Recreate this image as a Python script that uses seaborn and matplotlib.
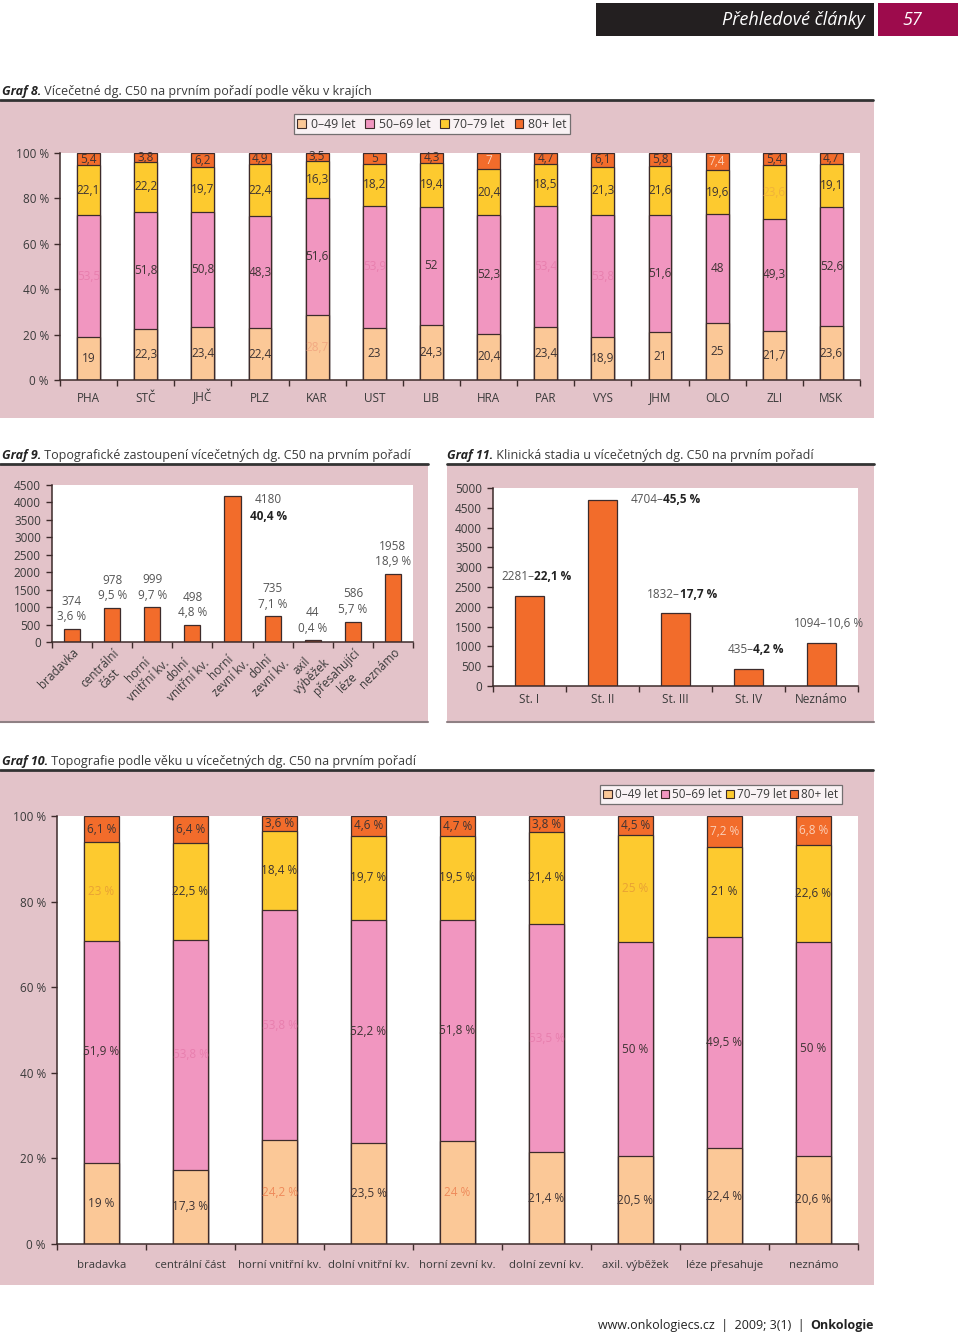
import numpy as np
import pandas as pd
import matplotlib
matplotlib.use('Agg')
import matplotlib.pyplot as plt
import seaborn as sns
from matplotlib.patches import Rectangle, Patch
from matplotlib.lines import Line2D
from matplotlib.offsetbox import TextArea, HPacker, AnnotationBbox

# ---------------- data ----------------
age_groups = ['0–49 let', '50–69 let', '70–79 let', '80+ let']

regions = ['PHA', 'STČ', 'JHČ', 'PLZ', 'KAR', 'UST', 'LIB', 'HRA', 'PAR', 'VYS', 'JHM', 'OLO', 'ZLI', 'MSK']
g8_0_49 = [19, 22.3, 23.4, 22.4, 28.7, 23, 24.3, 20.4, 23.4, 18.9, 21, 25, 21.7, 23.6]
g8_50_69 = [53.5, 51.8, 50.8, 48.3, 51.6, 53.9, 52, 52.3, 53.4, 53.8, 51.6, 48, 49.3, 52.6]
g8_70_79 = [22.1, 22.2, 19.7, 22.4, 16.3, 18.2, 19.4, 20.4, 18.5, 21.3, 21.6, 19.6, 23.6, 19.1]
g8_80 = [5.4, 3.8, 6.2, 4.9, 3.5, 5, 4.3, 7, 4.7, 6.1, 5.8, 7.4, 5.4, 4.7]

sites9 = ['bradavka', 'centrální\nčást', 'horní\nvnitřní kv.', 'dolní\nvnitřní kv.', 'horní\nzevní kv.',
          'dolní\nzevní kv.', 'axil\nvýběžek', 'přesahující\nléze', 'neznámo']
counts9 = [374, 978, 999, 498, 4180, 735, 44, 586, 1958]
pct9 = [3.6, 9.5, 9.7, 4.8, 40.4, 7.1, 0.4, 5.7, 18.9]

stages11 = ['St. I', 'St. II', 'St. III', 'St. IV', 'Neznámo']
counts11 = [2281, 4704, 1832, 435, 1094]
pct11 = [22.1, 45.5, 17.7, 4.2, 10.6]

sites10 = ['bradavka', 'centrální část', 'horní vnitřní kv.', 'dolní vnitřní kv.', 'horní zevní kv.',
           'dolní zevní kv.', 'axil. výběžek', 'léze přesahuje', 'neznámo']
g10_0_49 = [19, 17.3, 24.2, 23.5, 24, 21.4, 20.5, 22.4, 20.6]
g10_50_69 = [51.9, 53.8, 53.8, 52.2, 51.8, 53.5, 50, 49.5, 50]
g10_70_79 = [23, 22.5, 18.4, 19.7, 19.5, 21.4, 25, 21, 22.6]
g10_80 = [6.1, 6.4, 3.6, 4.6, 4.7, 3.8, 4.5, 7.2, 6.8]

# ---------------- style ----------------
W, H = 960, 1334
COLORS = ['#fbc897', '#f196c0', '#fdca2f', '#f26c2b']
EDGE = '#3d2b2b'
PANEL = '#e3c3c9'
TXT = '#3a3a3a'
FONT = ['Open Sans', 'DejaVu Sans']

sns.set_theme(style='white')
plt.rcParams['font.family'] = FONT
plt.rcParams['text.color'] = TXT
plt.rcParams['axes.labelcolor'] = TXT
plt.rcParams['xtick.color'] = TXT
plt.rcParams['ytick.color'] = TXT

fig = plt.figure(figsize=(W / 100, H / 100), dpi=100)
fig.patch.set_facecolor('white')


def fbox(x0, y0, x1, y1):
    return [x0 / W, 1 - y1 / H, (x1 - x0) / W, (y1 - y0) / H]


def rect(x0, y0, x1, y1, color):
    fig.add_artist(Rectangle((x0 / W, 1 - y1 / H), (x1 - x0) / W, (y1 - y0) / H,
                             transform=fig.transFigure, facecolor=color, edgecolor='none', zorder=0))


def hline(x0, x1, y, color, lw):
    fig.add_artist(Line2D([x0 / W, x1 / W], [1 - y / H, 1 - y / H], transform=fig.transFigure,
                          color=color, lw=lw, zorder=1))


def rich_fig(x, y, parts, size, align=(0, 0.5)):
    areas = [TextArea(t, textprops=dict(fontsize=size, fontweight=w, fontstyle=s, color=c, family=FONT))
             for t, w, s, c in parts]
    pack = HPacker(children=areas, align='baseline', pad=0, sep=0)
    ab = AnnotationBbox(pack, (x, H - y), xycoords='figure pixels', box_alignment=align,
                        frameon=False, pad=0, annotation_clip=False)
    fig.add_artist(ab)


def fmt(v):
    s = ('%g' % v)
    return s.replace('.', ',')


def style_axes(ax, n, labels, ymax, yticks, ylabels, xsize=8.5, xpad=7, rot=0):
    ax.set_facecolor('white')
    for s in ['top', 'right']:
        ax.spines[s].set_visible(False)
    for s in ['left', 'bottom']:
        ax.spines[s].set_color(EDGE)
        ax.spines[s].set_linewidth(1.1)
    ax.set_xlim(-0.5, n - 0.5)
    ax.set_ylim(0, ymax)
    ax.set_xlabel('')
    ax.set_ylabel('')
    ax.set_yticks(yticks, ylabels)
    ax.tick_params(axis='y', which='major', length=4, width=1, color=EDGE, direction='out',
                   labelsize=8.5, pad=4, left=True)
    if rot:
        ax.set_xticks(range(n), labels, rotation=rot, ha='right', rotation_mode='anchor',
                      multialignment='center')
    else:
        ax.set_xticks(range(n), labels)
        for t in ax.get_xticklabels():
            t.set_verticalalignment('baseline')
    ax.set_xticks(np.arange(n + 1) - 0.5, minor=True)
    ax.tick_params(axis='x', which='major', length=0, labelsize=xsize, pad=xpad, bottom=True)
    ax.tick_params(axis='x', which='minor', length=4, width=1, color=EDGE, direction='out', bottom=True)
    ax.grid(False)


def stacked(ax, cats, series, suffix, overrides, lsize):
    vals = np.array(series, dtype=float)
    norm = vals / vals.sum(axis=0) * 100
    cum = np.cumsum(norm, axis=0)
    for k in range(len(series) - 1, -1, -1):
        df = pd.DataFrame({'cat': cats, 'val': cum[k]})
        sns.barplot(data=df, x='cat', y='val', color=COLORS[k], edgecolor=EDGE, linewidth=0.9,
                    width=0.4, saturation=1, errorbar=None, ax=ax)
    for k in range(len(series)):
        for i in range(len(cats)):
            yc = cum[k][i] - norm[k][i] / 2
            col = overrides.get((i, k), '#3d3333')
            ax.text(i, yc, fmt(vals[k][i]) + suffix, ha='center', va='center', fontsize=lsize,
                    color=col, zorder=5)


def legend(x, y, size, colsp, hpad):
    handles = [Patch(facecolor=c, edgecolor=EDGE, linewidth=0.8, label=l) for c, l in zip(COLORS, age_groups)]
    lg = fig.legend(handles=handles, loc='center', bbox_to_anchor=(x / W, 1 - y / H), ncol=4,
                    fontsize=size, frameon=True, fancybox=False, edgecolor='#555555',
                    handlelength=0.7, handleheight=0.7, handletextpad=hpad, columnspacing=colsp,
                    borderpad=0.25, borderaxespad=0)
    lg.get_frame().set_linewidth(0.9)
    for t in lg.get_texts():
        t.set_color(TXT)


# ---------------- header ----------------
rect(596, 3, 874, 36, '#231f20')
rect(878, 3, 958, 36, '#9d0b4c')
fig.text(865 / W, 1 - 20 / H, 'Přehledové články', ha='right', va='center', color='white',
         fontsize=13, fontstyle='italic')
fig.text(912 / W, 1 - 20 / H, '57', ha='center', va='center', color='white', fontsize=13,
         fontstyle='italic')

# ---------------- panels ----------------
rect(0, 101, 874, 418, PANEL)
rect(0, 465, 428, 722, PANEL)
rect(447, 465, 874, 722, PANEL)
rect(0, 771, 874, 1285, PANEL)
hline(0, 873, 100, '#333333', 2)
hline(0, 428, 464, '#333333', 2)
hline(447, 874, 464, '#333333', 2)
hline(0, 873, 770, '#333333', 2)
hline(0, 428, 722, '#8f8084', 1.5)
hline(447, 874, 722, '#8f8084', 1.5)

rich_fig(2, 91, [('Graf 8.', 'bold', 'italic', '#222222'),
                 (' Vícečetné dg. C50 na prvním pořadí podle věku v krajích', 'normal', 'normal', TXT)], 9)
rich_fig(2, 456, [('Graf 9.', 'bold', 'italic', '#222222'),
                  (' Topografické zastoupení vícečetných dg. C50 na prvním pořadí', 'normal', 'normal', TXT)], 9)
rich_fig(447, 456, [('Graf 11.', 'bold', 'italic', '#222222'),
                    (' Klinická stadia u vícečetných dg. C50 na prvním pořadí', 'normal', 'normal', TXT)], 9)
rich_fig(2, 761, [('Graf 10.', 'bold', 'italic', '#222222'),
                  (' Topografie podle věku u vícečetných dg. C50 na prvním pořadí', 'normal', 'normal', TXT)], 9)

pct_ticks = list(range(0, 101, 20))
pct_labels = [f'{v} %' for v in pct_ticks]

# ---------------- Graf 8 ----------------
ax8 = fig.add_axes(fbox(60, 153, 860, 380))
ov8 = {(0, 1): '#e87fae', (5, 1): '#e87fae', (8, 1): '#e87fae', (9, 1): '#e87fae',
       (4, 0): '#f2a982', (12, 2): '#f0b23a', (7, 3): '#fbd0b8', (11, 3): '#fbd0b8'}
stacked(ax8, regions, [g8_0_49, g8_50_69, g8_70_79, g8_80], '', ov8, 8.5)
style_axes(ax8, len(regions), regions, 100, pct_ticks, pct_labels, xsize=8.5, xpad=15.5)
legend(432, 124, 8.8, 0.8, 0.4)

# ---------------- Graf 9 ----------------
ax9 = fig.add_axes(fbox(52, 485, 413, 642))
df9 = pd.DataFrame({'site': sites9, 'count': counts9})
sns.barplot(data=df9, x='site', y='count', color=COLORS[3], edgecolor=EDGE, linewidth=0.9,
            width=0.4, saturation=1, errorbar=None, ax=ax9)
style_axes(ax9, len(sites9), sites9, 4500, list(range(0, 4501, 500)),
           [str(v) for v in range(0, 4501, 500)], xsize=8.5, xpad=3, rot=45)
imax = int(np.argmax(counts9))
for i, (c, p) in enumerate(zip(counts9, pct9)):
    if i == imax:
        ax9.annotate(str(c), xy=(i, c), xytext=(26, 2), textcoords='offset points', ha='center',
                     va='top', fontsize=8.5, color='#555555')
        ax9.annotate(fmt(p) + ' %', xy=(i, c), xytext=(26, -10), textcoords='offset points',
                     ha='center', va='top', fontsize=8.5, fontweight='bold', color='#222222')
    else:
        ax9.annotate(f'{c}\n{fmt(p)} %', xy=(i, c), xytext=(0, 4), textcoords='offset points',
                     ha='center', va='bottom', fontsize=8.5, color='#555555', linespacing=1.25)

# ---------------- Graf 11 ----------------
ax11 = fig.add_axes(fbox(493, 488, 858, 686))
df11 = pd.DataFrame({'stage': stages11, 'count': counts11})
sns.barplot(data=df11, x='stage', y='count', color=COLORS[3], edgecolor=EDGE, linewidth=0.9,
            width=0.4, saturation=1, errorbar=None, ax=ax11)
style_axes(ax11, len(stages11), stages11, 5000, list(range(0, 5001, 500)),
           [str(v) for v in range(0, 5001, 500)], xsize=8.5, xpad=12.5)
imax11 = int(np.argmax(counts11))
bold11 = [True, True, True, True, False]
for i, (c, p) in enumerate(zip(counts11, pct11)):
    parts = [TextArea(f'{c}–', textprops=dict(fontsize=8.5, color='#555555', family=FONT)),
             TextArea(f'{fmt(p)} %', textprops=dict(fontsize=8.5, color='#222222' if bold11[i] else '#555555',
                                                     fontweight='bold' if bold11[i] else 'normal', family=FONT))]
    pack = HPacker(children=parts, align='baseline', pad=0, sep=0)
    if i == imax11:
        ab = AnnotationBbox(pack, (i, c), xybox=(20, 0), boxcoords='offset points',
                            box_alignment=(0, 0.5), frameon=False, pad=0)
    else:
        ab = AnnotationBbox(pack, (i, c), xybox=(5, 9), boxcoords='offset points',
                            box_alignment=(0.5, 0), frameon=False, pad=0)
    ax11.add_artist(ab)

# ---------------- Graf 10 ----------------
ax10 = fig.add_axes(fbox(57, 816, 858, 1244))
ov10 = {(0, 2): '#e9a234', (1, 1): '#e87fae', (2, 1): '#e87fae', (2, 0): '#ef8a5a',
        (4, 0): '#ef8a5a', (5, 1): '#e87fae', (6, 2): '#e9a234', (7, 3): '#fbd0b8', (8, 3): '#fbd0b8'}
stacked(ax10, sites10, [g10_0_49, g10_50_69, g10_70_79, g10_80], ' %', ov10, 8.5)
style_axes(ax10, len(sites10), sites10, 100, pct_ticks, pct_labels, xsize=8.2, xpad=17)
legend(721, 794.5, 8.5, 0.3, 0.25)

# ---------------- footer ----------------
rich_fig(874, 1326, [('www.onkologiecs.cz  |  2009; 3(1)  |  ', 'normal', 'normal', '#222222'),
                     ('Onkologie', 'bold', 'normal', '#222222')], 9, align=(1, 0.5))

fig.savefig('out.png', dpi=100, facecolor='white')
